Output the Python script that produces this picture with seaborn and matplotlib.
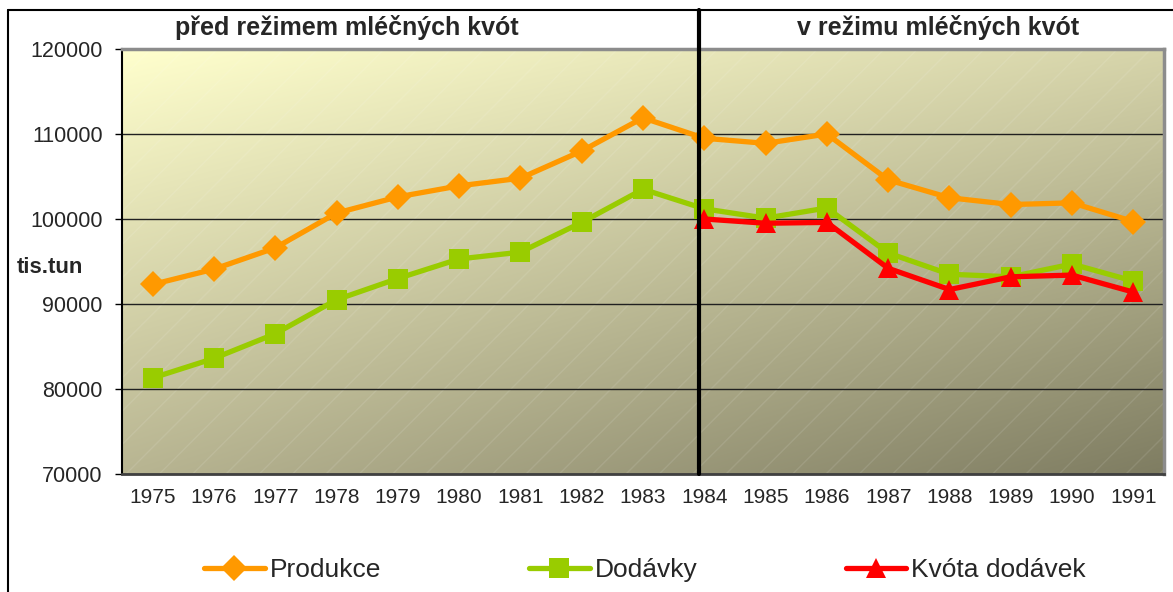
#!/usr/bin/env python3
"""Produkce, dodavky a kvota mleka 1975-1991 (pred a v rezimu mlecnych kvot)."""

import matplotlib.pyplot as plt
import numpy as np
import pandas as pd
import seaborn as sns
from matplotlib.lines import Line2D
from matplotlib.patches import Rectangle

YEARS = list(range(1975, 1992))
PRODUKCE = [92300, 94100, 96600, 100700, 102600, 103900, 104800, 108000, 111900,
            109500, 108900, 110000, 104600, 102500, 101700, 101900, 99700]
DODAVKY = [81300, 83600, 86500, 90500, 93000, 95300, 96100, 99600, 103500,
           101200, 100100, 101300, 96000, 93500, 93200, 94700, 92700]
KVOTA = [np.nan] * 9 + [100000, 99500, 99600, 94200, 91700, 93200, 93400, 91400]

SERIES = [
    ("Produkce", PRODUKCE, "#FF9900", "D", 13),
    ("Dodávky", DODAVKY, "#99CC00", "s", 15),
    ("Kvóta dodávek", KVOTA, "#FF0000", "^", 15),
]

sns.set_style("white")
plt.rcParams["font.family"] = ["Liberation Sans", "DejaVu Sans"]

fig = plt.figure(figsize=(11.73, 5.92), dpi=100)
W, H = 1173, 592
ax = fig.add_axes([122 / W, 1 - 474 / H, (1164 - 122) / W, (474 - 49) / H])

# gradient background (bilinear between four corners)
tl = np.array([255, 255, 205]) / 255
tr = np.array([214, 212, 170]) / 255
bl = np.array([184, 181, 146]) / 255
br = np.array([127, 125, 98]) / 255
u = np.linspace(0, 1, 200)[None, :, None]
v = np.linspace(0, 1, 100)[:, None, None]
grad = (1 - v) * ((1 - u) * tl + u * tr) + v * ((1 - u) * bl + u * br)
ax.imshow(grad, extent=[-0.5, 16.5, 70000, 120000], origin="upper",
          aspect="auto", zorder=0, interpolation="bilinear")
ax.add_patch(Rectangle((0, 0), 1, 1, transform=ax.transAxes, facecolor="none",
                       edgecolor=(1, 1, 1, 0.1), linewidth=0, hatch="/", zorder=0.2))

pos = np.arange(len(YEARS))
for name, vals, color, marker, ms in SERIES:
    df = pd.DataFrame({"pos": pos, "value": vals}).dropna()
    sns.lineplot(data=df, x="pos", y="value", ax=ax, color=color, lw=3.8,
                 marker=marker, markersize=ms, markeredgewidth=0, label=name,
                 legend=False, zorder=3)

# divider between the two periods
ax.add_line(Line2D([8.92, 8.92], [0, 464 / 425], transform=ax.get_xaxis_transform(),
                   color="black", lw=3, clip_on=False, zorder=4))

ax.set_xlim(-0.5, 16.5)
ax.set_ylim(70000, 120000)
ax.set_yticks(range(70000, 120001, 10000))
ax.set_yticklabels([str(t) for t in range(70000, 120001, 10000)])
ax.set_xticks(pos)
ax.set_xticklabels([str(y) for y in YEARS])
ax.set_xticks(np.arange(-0.5, 17, 1), minor=True)
ax.tick_params(axis="x", which="major", length=0, pad=10, labelsize=15)
ax.tick_params(axis="x", which="minor", length=5, width=1, color="black", direction="out")
ax.tick_params(axis="y", length=5, width=1, color="black", direction="out",
               pad=9, labelsize=15.5, left=True)
ax.set_xlabel("")
ax.set_ylabel("")
ax.set_axisbelow(True)
ax.grid(axis="y", color="#202020", lw=1)
ax.grid(axis="x", visible=False)

for side, col, lw in [("left", "black", 1.5), ("bottom", "#404040", 2),
                      ("top", "#8C8C8C", 2.5), ("right", "#8C8C8C", 2.5)]:
    ax.spines[side].set_visible(True)
    ax.spines[side].set_color(col)
    ax.spines[side].set_linewidth(lw)

# outer frame
fig.add_artist(Line2D([8 / W, 8 / W], [0, 1 - 10 / H], color="black", lw=1.5))
fig.add_artist(Line2D([8 / W, 1], [1 - 10 / H, 1 - 10 / H], color="black", lw=1.5))

fig.text(347 / W, 1 - 28 / H, "před režimem mléčných kvót", ha="center", va="center",
         fontsize=18, fontweight="bold")
fig.text(938 / W, 1 - 28 / H, "v režimu mléčných kvót", ha="center", va="center",
         fontsize=18, fontweight="bold")
fig.text(17 / W, 1 - 268 / H, "tis.tun", ha="left", va="center",
         fontsize=16, fontweight="bold")

handles, labels = ax.get_legend_handles_labels()
fig.legend(handles, labels, loc="center", bbox_to_anchor=(645 / W, 1 - 570 / H),
           ncol=3, frameon=False, fontsize=19, handlelength=2.3, handletextpad=0.2,
           columnspacing=5.6, numpoints=1)

fig.savefig("out.png", dpi=100)
